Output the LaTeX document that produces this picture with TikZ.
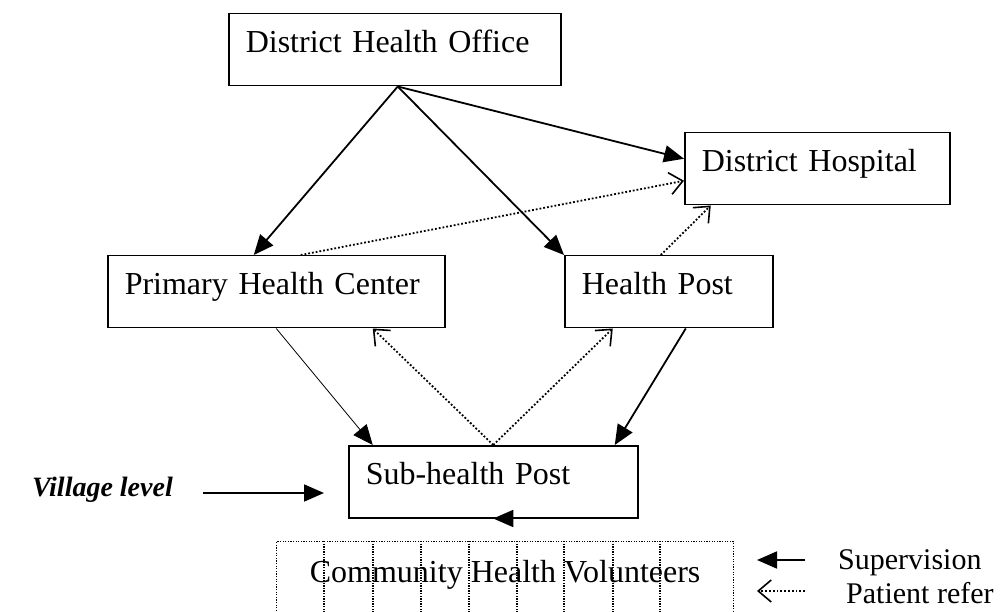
\documentclass[tikz,border=0pt]{standalone}
\usepackage{fontspec}
\setmainfont{Liberation Serif}
\usetikzlibrary{arrows.meta}

\tikzset{
  box/.style={draw, line width=1.5pt, anchor=north west, align=left,
    inner xsep=17pt, inner ysep=0pt, text height=39pt, text depth=33pt},
  cell/.style={draw, line width=1.2pt, dash pattern=on 1.3pt off 1.3pt,
    anchor=north west, inner sep=0pt, text height=41pt, text depth=35pt},
  supv/.style={line width=1.8pt, -{Triangle[length=20pt,width=17pt]}},
  refer/.style={line width=1.8pt, dotted,
    -{Straight Barb[length=13pt,width=22pt,line width=1.6pt]}},
  legend/.style={anchor=west, inner sep=0pt, font=\fontsize{30}{35}\selectfont}
}

\begin{document}
\begin{tikzpicture}[x=10pt, y=-10pt, font=\fontsize{32}{38}\selectfont]
\useasboundingbox (0,0) rectangle (100.7,61.2);
% the boxes
\node [box, text width=298pt] (dho) at (22.8,1.3) {District Health Office};
\node [box, text width=231pt] (hosp) at (68.4,13.2) {District Hospital};
\node [box, text width=303pt] (phc) at (10.7,25.5) {Primary Health Center};
\node [box, text width=174pt] (hp) at (56.4,25.5) {Health Post};
\node [box, text width=255pt] (shp) at (34.8,44.5) {Sub-health Post};
\node [cell, minimum width=457pt] (chv) at (27.6,54.1) {Community Health Volunteers};
\foreach \x in {48,97,145,193,241,288,337,384}
  \draw [line width=1.2pt, dash pattern=on 1.3pt off 1.3pt]
    ([xshift=\x pt]chv.north west) -- ([xshift=\x pt]chv.south west);
% supervision
\draw [supv] ([xshift=3pt]dho.south) -- ([xshift=-22.5pt]phc.north);
\draw [supv] ([xshift=3pt]dho.south) -- (hp.north west);
\draw [supv] ([xshift=3pt]dho.south) -- ([yshift=10pt]hosp.west);
\draw [supv, line width=0.8pt] (phc.south) -- ([xshift=-120.5pt]shp.north);
\draw [supv] ([xshift=17pt]hp.south) -- ([xshift=121.5pt]shp.north);
\draw [supv] ([xshift=28pt]shp.south) -- (shp.south);
% referral
\draw [refer] ([xshift=24.5pt]phc.north) -- ([yshift=-12pt]hosp.west);
\draw [refer] ([xshift=-8pt]hp.north) -- ([xshift=-106.5pt]hosp.south);
\draw [refer] (shp.north) -- ([xshift=96.5pt]phc.south);
\draw [refer] (shp.north) -- ([xshift=-56pt]hp.south);
% village level
\node [font=\fontsize{28}{34}\selectfont\bfseries\itshape, anchor=east,
  inner sep=0pt, text height=20pt, text depth=14pt] (village) at (17.3,49.3) {Village level};
\coordinate (vtip) at (32.4,49.3);
\draw [supv] ([xshift=30pt]village.east) -- (vtip);
% legend
\node [legend] (sup) at (83.8,56.3) {Supervision};
\node [legend] (ref) at (84.6,59.3) {Patient refer};
\draw [supv] ([xshift=-33pt,yshift=3pt]sup.west) -- ([xshift=-81pt,yshift=3pt]sup.west);
\draw [refer] ([xshift=-41pt,yshift=2pt]ref.west) -- ([xshift=-89pt,yshift=2pt]ref.west);
\end{tikzpicture}
\end{document}
